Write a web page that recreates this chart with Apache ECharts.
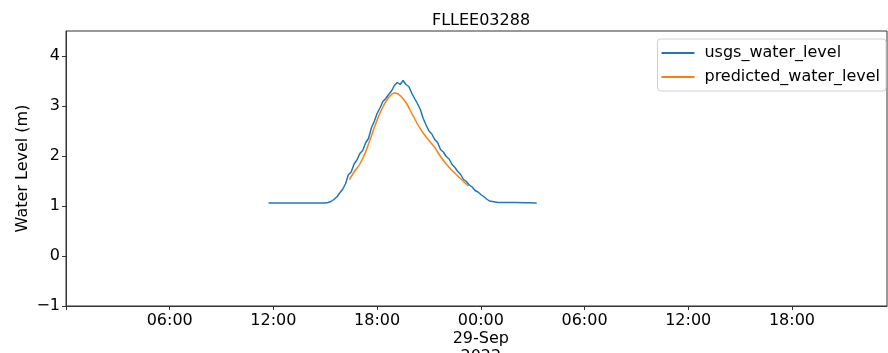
<!DOCTYPE html>
<html>
<head>
<meta charset="utf-8">
<script src="https://cdn.jsdelivr.net/npm/echarts@6/dist/echarts.min.js"></script>
<style>
  html, body { margin: 0; padding: 0; background: #fff; }
  #chart { width: 888px; height: 353px; }
</style>
</head>
<body>
<div id="chart"></div>
<script>
// observed gauge readings (UTC)
var usgsTime = [
  "2022-09-28T11:43", "2022-09-28T13:00", "2022-09-28T14:00", "2022-09-28T15:00", "2022-09-28T15:10",
  "2022-09-28T15:20", "2022-09-28T15:30", "2022-09-28T15:40", "2022-09-28T15:50", "2022-09-28T16:00",
  "2022-09-28T16:10", "2022-09-28T16:20", "2022-09-28T16:30", "2022-09-28T16:40", "2022-09-28T16:50",
  "2022-09-28T17:00", "2022-09-28T17:10", "2022-09-28T17:20", "2022-09-28T17:30", "2022-09-28T17:40",
  "2022-09-28T17:50", "2022-09-28T18:00", "2022-09-28T18:10", "2022-09-28T18:20", "2022-09-28T18:30",
  "2022-09-28T18:40", "2022-09-28T18:50", "2022-09-28T19:00", "2022-09-28T19:10", "2022-09-28T19:20",
  "2022-09-28T19:30", "2022-09-28T19:40", "2022-09-28T19:50", "2022-09-28T20:00", "2022-09-28T20:10",
  "2022-09-28T20:20", "2022-09-28T20:30", "2022-09-28T20:40", "2022-09-28T20:50", "2022-09-28T21:00",
  "2022-09-28T21:10", "2022-09-28T21:20", "2022-09-28T21:30", "2022-09-28T21:40", "2022-09-28T21:50",
  "2022-09-28T22:00", "2022-09-28T22:10", "2022-09-28T22:20", "2022-09-28T22:30", "2022-09-28T22:40",
  "2022-09-28T22:50", "2022-09-28T23:00", "2022-09-28T23:10", "2022-09-28T23:20", "2022-09-28T23:30",
  "2022-09-28T23:40", "2022-09-28T23:50", "2022-09-29T00:00", "2022-09-29T00:10", "2022-09-29T00:20",
  "2022-09-29T00:30", "2022-09-29T00:40", "2022-09-29T00:50", "2022-09-29T01:00", "2022-09-29T02:00",
  "2022-09-29T03:14"
];
var usgsLevel = [
  1.06, 1.06, 1.06, 1.06, 1.07,
  1.09, 1.13, 1.18, 1.26, 1.33,
  1.44, 1.62, 1.68, 1.84, 1.92,
  2.05, 2.11, 2.26, 2.35, 2.56,
  2.69, 2.85, 2.96, 3.09, 3.15,
  3.23, 3.30, 3.41, 3.47, 3.43,
  3.51, 3.43, 3.39, 3.26, 3.15,
  3.05, 2.93, 2.75, 2.62, 2.50,
  2.44, 2.33, 2.27, 2.13, 2.08,
  1.99, 1.94, 1.83, 1.77, 1.69,
  1.63, 1.53, 1.49, 1.42, 1.38,
  1.31, 1.28, 1.23, 1.19, 1.14,
  1.10, 1.09, 1.08, 1.07, 1.07,
  1.06
];

// model prediction
var predTime = [
  "2022-09-28T16:24", "2022-09-28T16:40", "2022-09-28T17:00", "2022-09-28T17:20", "2022-09-28T17:40",
  "2022-09-28T18:00", "2022-09-28T18:20", "2022-09-28T18:40", "2022-09-28T19:00", "2022-09-28T19:10",
  "2022-09-28T19:20", "2022-09-28T19:40", "2022-09-28T20:00", "2022-09-28T20:20", "2022-09-28T20:40",
  "2022-09-28T21:00", "2022-09-28T21:20", "2022-09-28T21:40", "2022-09-28T22:00", "2022-09-28T22:20",
  "2022-09-28T22:40", "2022-09-28T23:00", "2022-09-28T23:17"
];
var predLevel = [
  1.53, 1.68, 1.84, 2.08, 2.40,
  2.72, 2.98, 3.17, 3.26, 3.25,
  3.21, 3.07, 2.86, 2.64, 2.46,
  2.31, 2.17, 1.99, 1.84, 1.71,
  1.60, 1.49, 1.40
];

var yTicks = [-1, 0, 1, 2, 3, 4];
var months = ["Jan", "Feb", "Mar", "Apr", "May", "Jun", "Jul", "Aug", "Sep", "Oct", "Nov", "Dec"];

function ts(s) {
  return Date.parse(s + ":00Z");
}
function pairs(t, v) {
  return t.map(function (s, i) { return [ts(s), v[i]]; });
}
function pad(n) {
  return (n < 10 ? "0" : "") + n;
}

var xMin = ts("2022-09-28T00:00");
var xMax = ts("2022-09-29T23:30");
var font = "DejaVu Sans";

var chart = echarts.init(document.getElementById("chart"));
chart.setOption({
  animation: false,
  textStyle: { fontFamily: font },
  title: {
    text: "FLLEE03288",
    left: 476,
    top: 8,
    textAlign: "center",
    textStyle: { fontSize: 16, fontWeight: "normal", color: "#000", fontFamily: font }
  },
  legend: {
    right: 2,
    top: 39,
    orient: "vertical",
    icon: "rect",
    itemWidth: 33,
    itemHeight: 2,
    itemGap: 8,
    padding: [6, 6, 6, 4],
    borderColor: "#d0d0d0",
    borderWidth: 1,
    borderRadius: 3,
    textStyle: { fontSize: 16, color: "#000", fontFamily: font, padding: [0, 0, 0, 5] },
    data: ["usgs_water_level", "predicted_water_level"]
  },
  grid: {
    left: 66,
    right: 1,
    top: 31,
    bottom: 47,
    containLabel: false,
    outerBoundsMode: "none",
    show: true,
    borderColor: "#333",
    borderWidth: 1
  },
  xAxis: {
    type: "value",
    min: xMin,
    max: xMax,
    interval: 6 * 3600 * 1000,
    splitLine: { show: false },
    axisLine: { onZero: false, lineStyle: { color: "#333" } },
    axisTick: { length: 4, lineStyle: { color: "#333" } },
    axisLabel: {
      showMaxLabel: false,
      fontSize: 16,
      color: "#000",
      lineHeight: 18,
      margin: 6,
      formatter: function (v) {
        var d = new Date(v);
        if (v === xMin) return "";
        var hm = pad(d.getUTCHours()) + ":" + pad(d.getUTCMinutes());
        if (d.getUTCHours() === 0) {
          return hm + "\n" + pad(d.getUTCDate()) + "-" + months[d.getUTCMonth()] + "\n" + d.getUTCFullYear();
        }
        return hm;
      }
    }
  },
  yAxis: {
    type: "value",
    min: yTicks[0],
    max: 4.5,
    interval: 1,
    name: "Water Level (m)",
    nameLocation: "middle",
    nameGap: 35,
    nameMoveOverlap: false,
    nameTextStyle: { fontSize: 16, color: "#000", fontFamily: font },
    splitLine: { show: false },
    axisLine: { show: true, onZero: false, lineStyle: { color: "#333" } },
    axisTick: { show: true, length: 4, lineStyle: { color: "#333" } },
    axisLabel: {
      showMaxLabel: false,
      fontSize: 16,
      color: "#000",
      margin: 6,
      formatter: function (v) {
        return v < 0 ? "\u2212" + Math.abs(v) : String(v);
      }
    }
  },
  series: [
    {
      name: "usgs_water_level",
      type: "line",
      data: pairs(usgsTime, usgsLevel),
      showSymbol: false,
      symbol: "none",
      color: "#1f77b4",
      lineStyle: { width: 1.5, color: "#1f77b4" }
    },
    {
      name: "predicted_water_level",
      type: "line",
      data: pairs(predTime, predLevel),
      showSymbol: false,
      symbol: "none",
      smooth: 0.3,
      color: "#ff7f0e",
      lineStyle: { width: 1.5, color: "#ff7f0e" }
    }
  ]
});
</script>
</body>
</html>
